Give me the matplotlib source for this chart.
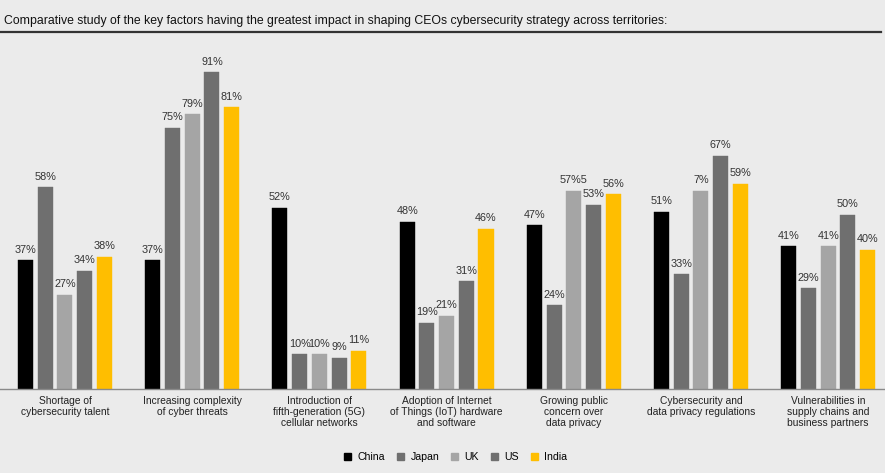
import numpy as np
import matplotlib.pyplot as plt
from matplotlib.patches import Patch

plt.rcParams['font.family'] = ['Liberation Sans', 'DejaVu Sans']

title = "Comparative study of the key factors having the greatest impact in shaping CEOs cybersecurity strategy across territories:"

categories = [
    "Shortage of\ncybersecurity talent",
    "Increasing complexity\nof cyber threats",
    "Introduction of\nfifth-generation (5G)\ncellular networks",
    "Adoption of Internet\nof Things (IoT) hardware\nand software",
    "Growing public\nconcern over\ndata privacy",
    "Cybersecurity and\ndata privacy regulations",
    "Vulnerabilities in\nsupply chains and\nbusiness partners",
]

territories = ["China", "Japan", "UK", "US", "India"]

china = [37, 37, 52, 48, 47, 51, 41]
japan = [58, 75, 10, 19, 24, 33, 29]
uk = [27, 79, 10, 21, 57, 57, 41]
us = [34, 91, 9, 31, 53, 67, 50]
india = [38, 81, 11, 46, 56, 59, 40]

# labels as printed in the original (two of them are garbled there)
uk_labels = ["27%", "79%", "10%", "21%", "57%5", "7%", "41%"]

series = [china, japan, uk, us, india]
colors = ["#000000", "#6f6f6f", "#a5a5a5", "#6f6f6f", "#ffbe00"]

fig = plt.figure(figsize=(8.85, 4.73), dpi=100)
fig.patch.set_facecolor("#ebebeb")
ax = fig.add_axes([0, 0.1776, 1, 0.7357])
ax.set_facecolor("#ebebeb")

x = np.arange(len(categories))
step = 0.155
width = 0.118
for k, (vals, col) in enumerate(zip(series, colors)):
    pos = x + (k - 2) * step
    ax.bar(pos, vals, width, color=col, edgecolor=col, linewidth=0.3)
    labels = uk_labels if k == 2 else [f"{v}%" for v in vals]
    for p, v, lab in zip(pos, vals, labels):
        ax.text(p, v + 1.6, lab, ha="center", va="bottom", fontsize=7.8, color="#333333")

ax.set_xlim(-0.511, 6.447)
ax.set_ylim(0, 100)
for s in ["top", "right", "left"]:
    ax.spines[s].set_visible(False)
ax.spines["bottom"].set_color("#8a8a8a")
ax.spines["bottom"].set_linewidth(1.0)
ax.set_yticks([])
ax.set_xticks(x)
ax.set_xticklabels(categories, fontsize=7.4, color="#222222", linespacing=1.15)
ax.tick_params(axis="x", length=0, pad=5)

fig.text(0.004, 0.955, title, fontsize=8.8, color="#111111", va="center", ha="left")
fig.add_artist(plt.Line2D([0, 0.995], [0.932, 0.932], color="#333333", linewidth=1.6))

handles = [Patch(facecolor=c, edgecolor=c, label=t) for t, c in zip(territories, colors)]
fig.legend(handles=handles, loc="center", bbox_to_anchor=(0.515, 0.034), ncol=5,
           frameon=False, fontsize=7.6, handlelength=0.7, handleheight=0.7,
           handletextpad=0.6, columnspacing=1.1)

fig.savefig("out.png", dpi=100, facecolor=fig.get_facecolor())
